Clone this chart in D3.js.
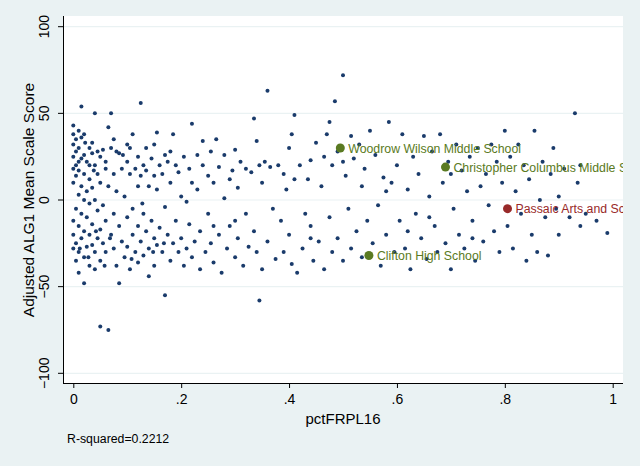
<!DOCTYPE html>
<html>
<head>
<meta charset="utf-8">
<script src="https://cdn.jsdelivr.net/npm/d3@7"></script>
<style>
  body { margin: 0; background: #eaf2f3; }
  text { font-family: "Liberation Sans", Arial, sans-serif; }
</style>
</head>
<body>
<script>
// Width and height
let w = 640;
let h = 466;

// pctFRPL16, adjusted score
let schools = [
  [0,43],[0,38],[0,32],[0,25],[0,18],[0,10],[0,-12],[0,-20],[0,-28],[0.005,35],[0.005,28],[0.005,20],[0.005,14],[0.005,-5],[0.005,-25],[0.005,-35],
  [0.01,40],[0.01,30],[0.01,22],[0.01,17],[0.01,3],[0.01,-15],[0.01,-30],[0.01,-42],[0.015,54],[0.015,36],[0.015,24],[0.015,8],[0.015,-8],[0.015,-22],
  [0.02,38],[0.02,26],[0.02,15],[0.02,0],[0.02,-18],[0.02,-33],[0.02,-48],[0.025,22],[0.025,5],[0.025,-10],[0.025,-27],[0.03,30],[0.03,20],[0.03,12],
  [0.03,-2],[0.03,-20],[0.03,-38],[0.035,33],[0.035,27],[0.035,7],[0.035,-14],[0.035,-26],[0.04,50],[0.04,20],[0.04,0],[0.04,-30],[0.04,-40],
  [0.045,28],[0.045,15],[0.045,-6],[0.045,-22],[0.05,25],[0.05,10],[0.05,-17],[0.05,-35],[0.05,-73],[0.055,29],[0.055,-3],[0.055,-25],[0.06,22],
  [0.06,18],[0.06,-12],[0.06,-30],[0.065,-75],[0.065,42],[0.065,8],[0.07,50],[0.07,30],[0.07,-20],[0.075,35],[0.075,15],[0.075,-8],[0.075,-28],
  [0.08,28],[0.08,5],[0.08,-38],[0.085,27],[0.085,-15],[0.085,-48],[0.012,-28],[0.022,33],[0.028,-33],[0.038,17],[0.042,-18],[0.058,-38],[0.068,-22],
  [0.09,18],[0.09,-24],[0.095,2],[0.095,-33],[0.1,32],[0.1,22],[0.1,-10],[0.1,-27],[0.105,30],[0.105,15],[0.105,-40],[0.11,38],[0.11,-5],[0.11,-20],
  [0.115,18],[0.115,-30],[0.12,25],[0.12,8],[0.12,-15],[0.12,-36],[0.125,56],[0.125,14],[0.125,-24],[0.13,20],[0.13,-8],[0.13,-32],[0.135,30],
  [0.135,17],[0.135,-18],[0.14,8],[0.14,-28],[0.14,-44],[0.145,24],[0.145,-12],[0.15,32],[0.15,14],[0.15,-22],[0.15,-38],[0.155,39],[0.155,6],
  [0.155,-26],[0.16,20],[0.16,-16],[0.165,15],[0.165,-30],[0.17,26],[0.17,-4],[0.17,-55],[0.175,22],[0.175,-20],[0.18,28],[0.18,10],[0.18,-35],
  [0.185,38],[0.185,-25],[0.19,20],[0.19,-12],[0.195,16],[0.195,-30],[0.2,2],[0.2,-22],[0.092,26],[0.108,-34],[0.128,-2],[0.148,-30],[0.168,-25],
  [0.205,25],[0.205,-38],[0.21,-1],[0.21,-28],[0.215,18],[0.215,-14],[0.22,44],[0.22,10],[0.22,-33],[0.225,-24],[0.23,26],[0.23,6],[0.235,-18],
  [0.235,-40],[0.24,34],[0.24,20],[0.245,-30],[0.25,14],[0.25,-8],[0.255,28],[0.255,-25],[0.26,10],[0.26,-36],[0.265,35],[0.27,19],[0.27,-20],
  [0.275,-42],[0.28,26],[0.28,1],[0.285,-28],[0.29,12],[0.29,-15],[0.295,17],[0.3,29],[0.3,-33],[0.305,7],[0.305,-22],[0.31,22],[0.315,-38],
  [0.32,18],[0.32,-8],[0.325,-27],[0.33,16],[0.335,47],[0.335,-18],[0.34,34],[0.34,-30],[0.345,20],[0.345,-58],[0.35,10],[0.35,-40],[0.355,22],
  [0.36,63],[0.36,-24],[0.365,19],[0.37,-5],[0.375,-34],[0.38,20],[0.385,-12],[0.39,15],[0.39,-30],[0.395,6],[0.4,30],[0.4,-20],
  [0.405,38],[0.405,-37],[0.41,49],[0.41,12],[0.415,-42],[0.42,20],[0.425,-28],[0.43,-8],[0.435,12],[0.44,23],[0.44,-15],[0.445,-35],[0.45,33],
  [0.455,-24],[0.46,8],[0.465,25],[0.465,-40],[0.47,38],[0.475,45],[0.475,-10],[0.48,20],[0.48,-30],[0.485,57],[0.49,28],[0.49,-22],[0.5,72],
  [0.5,22],[0.5,-35],[0.505,14],[0.51,-5],[0.515,37],[0.515,-28],[0.52,24],[0.525,-18],[0.53,32],[0.535,8],[0.535,-33],[0.54,18],[0.545,-12],
  [0.55,40],[0.555,-25],[0.56,26],[0.565,-3],[0.57,-38],[0.575,13],[0.58,-20],[0.585,45],[0.59,10],[0.595,-30],[0.6,20],
  [0.605,-12],[0.61,38],[0.615,-28],[0.62,6],[0.625,-40],[0.63,25],[0.635,-8],[0.64,15],[0.645,-22],[0.65,37],[0.655,-34],[0.66,2],[0.665,28],
  [0.67,-15],[0.675,-30],[0.68,38],[0.685,10],[0.69,-25],[0.695,22],[0.7,-40],[0.705,-5],[0.71,32],[0.715,-20],[0.72,17],[0.725,-28],[0.73,5],
  [0.735,25],[0.74,-12],[0.745,-35],[0.75,30],[0.755,8],[0.76,-24],[0.765,15],[0.77,-3],[0.775,32],[0.78,-18],[0.785,22],[0.79,-30],[0.795,10],[0.8,40],
  [0.805,-15],[0.81,25],[0.815,-28],[0.82,5],[0.825,32],[0.83,-8],[0.835,20],[0.84,-35],[0.845,12],[0.85,-20],[0.855,40],[0.86,-30],[0.865,0],
  [0.87,22],[0.875,-10],[0.88,-32],[0.885,15],[0.89,30],[0.895,-5],[0.9,-20],[0.91,18],[0.92,-10],[0.93,50],[0.935,10],[0.94,-15],[0.95,-8],
  [0.97,-12],[0.99,-19],[0.94,20],[0.9,2],[0.62,-18],[0.66,-10],[0.7,15],[0.74,-22],[0.58,5],[0.44,-22],[0.3,-12],[0.26,-15]
];

// highlighted schools
let labelNames = ["Woodrow Wilson Middle School", "Christopher Columbus Middle School", "Passaic Arts and Science", "Clifton High School"];
let labelX = [0.495, 0.69, 0.805, 0.548];
let labelY = [30, 19, -5, -32];
let labelColor = ["#5a7a22", "#5a7a22", "#982a2a", "#5a7a22"];

let xTicks = [0, 0.2, 0.4, 0.6, 0.8, 1];
let yTicks = [-100, -50, 0, 50, 100];

let xScale = d3.scaleLinear().domain([0, 1]).range([73.3, 612.7]);
let yScale = d3.scaleLinear().domain([-100, 100]).range([373.3, 26.7]);

let svg = d3.select("body").append("svg").attr("width", w).attr("height", h);

// plot region
svg.append("rect").attr("x", 63).attr("y", 16).attr("width", 560).attr("height", 367).attr("fill", "white");

svg.append("clipPath").attr("id", "clip")
  .append("rect").attr("x", 63).attr("y", 16).attr("width", 560).attr("height", 367);

// gridlines
svg.selectAll("line.grid")
  .data(yTicks)
  .enter()
  .append("line")
  .attr("class", "grid")
  .attr("x1", 63).attr("x2", 623)
  .attr("y1", (d) => yScale(d)).attr("y2", (d) => yScale(d))
  .attr("stroke", "#eaf2f3").attr("stroke-width", 1.2);

let plot = svg.append("g").attr("clip-path", "url(#clip)");

plot.selectAll("circle.pt")
  .data(schools)
  .enter()
  .append("circle")
  .attr("class", "pt")
  .attr("cx", (d) => xScale(d[0]))
  .attr("cy", (d) => yScale(d[1]))
  .attr("r", 2)
  .attr("fill", "#1a3b6b");

plot.selectAll("circle.hl")
  .data(labelNames)
  .enter()
  .append("circle")
  .attr("class", "hl")
  .attr("cx", (d, i) => xScale(labelX[i]))
  .attr("cy", (d, i) => yScale(labelY[i]))
  .attr("r", 4.5)
  .attr("fill", (d, i) => labelColor[i]);

plot.selectAll("text.hl")
  .data(labelNames)
  .enter()
  .append("text")
  .attr("class", "hl")
  .text((d) => d)
  .attr("x", (d, i) => xScale(labelX[i]) + 8)
  .attr("y", (d, i) => yScale(labelY[i]) + 4.5)
  .attr("font-size", "12.3px")
  .attr("fill", (d, i) => labelColor[i]);

// axes
let xAxis = d3.axisBottom(xScale).tickValues(xTicks).tickSize(5)
  .tickFormat((d) => d === 0 ? "0" : d === 1 ? "1" : d3.format(".1f")(d).replace(/^0/, ""));
svg.append("g")
  .attr("transform", "translate(0,383)")
  .call(xAxis)
  .call((g) => g.select(".domain").attr("d", "M63,0.5H623"))
  .call((g) => g.selectAll("text").attr("font-size", "14px").attr("fill", "#000").attr("dy", "0.9em"))
  .call((g) => g.selectAll(".tick line").attr("stroke", "#000"));

let yAxis = d3.axisLeft(yScale).tickValues(yTicks).tickSize(5);
svg.append("g")
  .attr("transform", "translate(63,0)")
  .call(yAxis)
  .call((g) => g.select(".domain").attr("d", "M0.5,16V383"))
  .call((g) => g.selectAll("text")
    .attr("font-size", "14px").attr("fill", "#000")
    .attr("x", 0).attr("dy", 0)
    .attr("text-anchor", "middle")
    .attr("transform", (d) => "translate(-14," + yScale(d) + ") rotate(-90)"))
  .call((g) => g.selectAll(".tick").attr("transform", null))
  .call((g) => g.selectAll(".tick line").attr("transform", (d) => "translate(0," + yScale(d) + ")").attr("stroke", "#000"));

// titles
svg.append("text").text("pctFRPL16")
  .attr("x", 343).attr("y", 424).attr("text-anchor", "middle").attr("font-size", "15px");
svg.append("text").text("Adjusted ALG1 Mean Scale Score")
  .attr("transform", "translate(34,200) rotate(-90)").attr("text-anchor", "middle").attr("font-size", "15.5px");
svg.append("text").text("R-squared=0.2212")
  .attr("x", 67).attr("y", 443).attr("font-size", "12.3px");
</script>
</body>
</html>
